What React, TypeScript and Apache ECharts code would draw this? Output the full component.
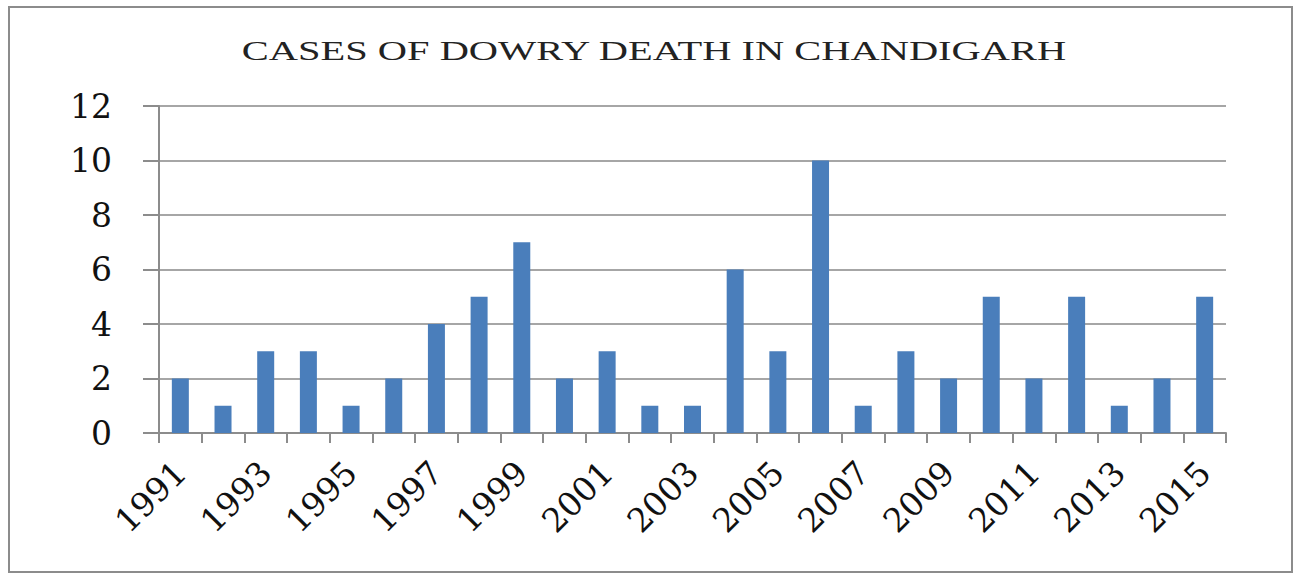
import React, { useEffect, useRef } from "react";
import * as echarts from "echarts";

const years = ["1991","1992","1993","1994","1995","1996","1997","1998","1999","2000","2001","2002","2003","2004","2005","2006","2007","2008","2009","2010","2011","2012","2013","2014","2015"];
const cases = [2,1,3,3,1,2,4,5,7,2,3,1,1,6,3,10,1,3,2,5,2,5,1,2,5];
const titleText = "CASES OF DOWRY DEATH IN CHANDIGARH";

export default function App() {
  const ref = useRef<HTMLDivElement>(null);
  useEffect(() => {
    const chart = echarts.init(ref.current!, null, { renderer: "svg" });
    const serif = "'Liberation Serif', 'Times New Roman', serif";
    const wide = "'DejaVu Serif', serif";
    chart.setOption({
      animation: false,
      backgroundColor: "#ffffff",
      graphic: [
        { type: "rect", shape: { x: 9, y: 7, width: 1283, height: 565 }, style: { fill: "none", stroke: "#8c8c8c", lineWidth: 2 }, z: 10 },
        { type: "text", x: 654, y: 51, scaleX: 1.445, style: { text: titleText, font: "28px " + serif, fill: "#222", textAlign: "center", textVerticalAlign: "middle" } },
      ],
      grid: { left: 159, right: 71, top: 106, bottom: 142 },
      xAxis: {
        type: "category",
        data: years,
        axisLine: { lineStyle: { color: "#8c8c8c", width: 2 } },
        axisTick: { show: true, length: 10, interval: 0, alignWithLabel: false, lineStyle: { color: "#8c8c8c", width: 2 } },
        axisLabel: { interval: 1, rotate: 45, margin: 34, fontSize: 33, fontFamily: wide, color: "#111" },
      },
      yAxis: {
        type: "value",
        min: 0,
        max: 12,
        interval: 2,
        axisLine: { show: true, lineStyle: { color: "#8c8c8c", width: 2 } },
        axisTick: { show: true, length: 16, lineStyle: { color: "#8c8c8c", width: 2 } },
        splitLine: { lineStyle: { color: "#a6a6a6", width: 2 } },
        axisLabel: { margin: 47, fontSize: 33, fontFamily: wide, color: "#111" },
      },
      series: [
        { type: "bar", data: cases, barWidth: 17, itemStyle: { color: "#4a7ebb" } },
      ],
    });
    return () => chart.dispose();
  }, []);
  return <div ref={ref} style={{ position: "fixed", left: 0, top: 0, width: 1297, height: 575 }} />;
}
